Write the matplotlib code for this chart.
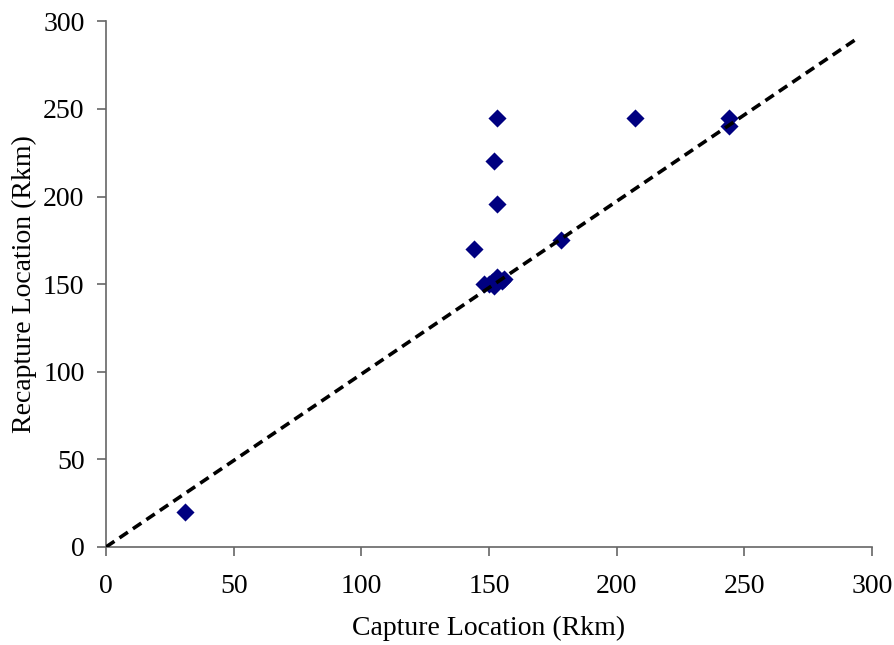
import numpy as np
import matplotlib
matplotlib.use("Agg")
import matplotlib.pyplot as plt

plt.rcParams['font.family'] = ['Liberation Serif', 'DejaVu Serif']

# capture / recapture locations (Rkm)
capture = [31, 144, 153, 152, 153, 178, 207, 244, 244,
           148, 150, 152, 153, 155, 152, 156, 151]
recapture = [20, 170, 245, 220, 196, 175, 245, 245, 240,
             150, 150, 152, 154, 152, 149, 153, 151]

# dashed reference line endpoints
line_x = [0, 294]
line_y = [0, 290]

fig = plt.figure(figsize=(8.94, 6.45), dpi=100)
ax = fig.add_axes([0.1186, 0.152, 0.8568, 0.815])

ax.plot(line_x, line_y, color='black', linestyle=(0, (2.8, 1.7)), linewidth=2.6,
        dash_capstyle='butt', zorder=3)
ax.scatter(capture, recapture, marker='D', s=85, color='#000080', zorder=2, linewidths=0)

ax.set_xlim(0, 300)
ax.set_ylim(0, 300)
ax.set_xticks(np.arange(0, 301, 50))
ax.set_yticks(np.arange(0, 301, 50))
ax.spines['top'].set_visible(False)
ax.spines['right'].set_visible(False)
for s in ['left', 'bottom']:
    ax.spines[s].set_color('#666666')
    ax.spines[s].set_linewidth(1.2)
ax.tick_params(direction='out', length=6.5, width=1.2, color='#666666', labelsize=20)
ax.tick_params(axis='x', pad=13)
ax.tick_params(axis='y', pad=9)
ax.set_xlabel('Capture Location (Rkm)', fontsize=20, labelpad=12)
ax.set_ylabel('Recapture Location (Rkm)', fontsize=20, labelpad=4)

fig.savefig('out.png', dpi=100)
